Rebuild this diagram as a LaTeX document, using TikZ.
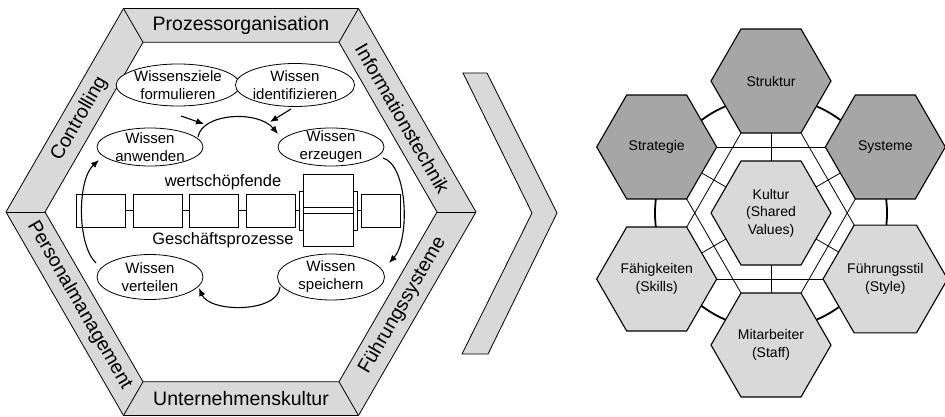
\documentclass[tikz,border=0pt]{standalone}
\usepackage{fontspec}
\setmainfont{Liberation Sans}
\usepackage{tikz}
\usetikzlibrary{calc,shapes.geometric,arrows.meta}

\definecolor{bandgray}{HTML}{D9D9D9}
\definecolor{hexdark}{HTML}{A6A6A6}

\tikzset{
	bandtext/.style={font=\fontsize{19.5}{22}\selectfont, inner sep=0pt},
	wissen/.style={ellipse, draw, fill=white, align=center, inner xsep=0pt, inner ysep=-5pt,
		font=\fontsize{15}{18}\selectfont},
	prozess/.style={rectangle, draw, minimum width=49pt, minimum height=33pt, inner sep=0pt},
	klammer/.style={rectangle, draw, minimum width=4pt, minimum height=39pt, inner sep=0pt},
	prozesstext/.style={font=\fontsize{16.5}{18}\selectfont, inner sep=0pt},
	kreislauf/.style={->, line width=1.1pt},
	hexa/.style={regular polygon, regular polygon sides=6, minimum size=120pt, inner sep=0pt,
		draw, line width=1.1pt, align=center, font=\fontsize{14}{17.5}\selectfont},
}

\begin{document}
\begin{tikzpicture}[x=1pt,y=-1pt,line width=0.8pt,>={Latex[length=8pt,width=6.5pt]}]
	\useasboundingbox (0,0) rectangle (945,417);
	\def\R{235}
	\def\r{196}
	\def\d{132}
	
	% Rahmen links
	\coordinate (O) at (241,212);
	\foreach \i in {0,...,5} {
		\coordinate (o\i) at ($(O)+(\i*60:\R)$);
		\coordinate (i\i) at ($(O)+(\i*60:\r)$);
	}
	\fill[bandgray,even odd rule] (o0)--(o1)--(o2)--(o3)--(o4)--(o5)--cycle
		(i0)--(i1)--(i2)--(i3)--(i4)--(i5)--cycle;
	\draw (o0)--(o1)--(o2)--(o3)--(o4)--(o5)--cycle;
	\draw (i0)--(i1)--(i2)--(i3)--(i4)--(i5)--cycle;
	\foreach \i in {0,...,5} \draw (o\i)--(i\i);
	
	\node[bandtext] (proz) at (241,25.5) {Prozessorganisation};
	\node[bandtext] (untern) at (241,398.5) {Unternehmenskultur};
	\node[bandtext,rotate=60] (contr) at (79.4,118.7) {Controlling};
	\node[bandtext,rotate=-60] (info) at (402.6,118.7) {Informationstechnik};
	\node[bandtext,rotate=60] (fuehrsys) at (402.6,305.3) {Führungssysteme};
	\node[bandtext,rotate=-60] (pers) at (79.4,305.3) {Personalmanagement};
	
	% Geschaeftsprozesse
	\node[prozess] (p1) at (100.5,210.5) {};
	\node[prozess] (p2) at (157.5,210.5) {};
	\node[prozess] (p3) at (213.5,210.5) {};
	\node[prozess] (p4) at (270.5,210.5) {};
	\node[klammer] (kl) at (301,210.5) {};
	\node[klammer] (kr) at (355,210.5) {};
	\node[prozess,minimum width=50pt] (p5a) at (328,190.5) {};
	\node[prozess,minimum width=50pt] (p5b) at (328,230) {};
	\node[prozess,minimum width=39pt] (p6) at (380.5,210.5) {};
	\draw (p1)--(p2);
	\draw (p2)--(p3);
	\draw (p3)--(p4);
	\draw (p4)--(kl);
	\draw (kr)--(p6);
	\node[prozesstext] (wert) at (223,182) {wertschöpfende};
	\node[prozesstext] (gesch) at (223,240) {Geschäftsprozesse};
	
	% Wissensbausteine
	\node[wissen,minimum width=104pt,minimum height=42pt] (ziele) at (178,85) {Wissensziele\\formulieren};
	\node[wissen,minimum width=96pt,minimum height=43pt] (ident) at (295,85) {Wissen\\identifizieren};
	\node[wissen,minimum width=106pt,minimum height=38pt] (anwend) at (150,147) {Wissen\\anwenden};
	\node[wissen,minimum width=106pt,minimum height=38pt] (erzeug) at (331,147) {Wissen\\erzeugen};
	\node[wissen,minimum width=106pt,minimum height=45pt] (verteil) at (150,277) {Wissen\\verteilen};
	\node[wissen,minimum width=107pt,minimum height=46pt] (speich) at (331,277) {Wissen\\speichern};
	
	\coordinate (z1) at (181,116);
	\coordinate (z2) at (204,124);
	\coordinate (e1) at (291,109);
	\coordinate (e2) at (270,122);
	\coordinate (a1) at (198,137);
	\coordinate (a2) at (278,134);
	\coordinate (b1) at (383,158);
	\coordinate (b2) at (389,263);
	\coordinate (c1) at (280,287);
	\coordinate (c2) at (199,288);
	\coordinate (d1) at (96,263);
	\coordinate (d2) at (99,160);
	\draw[kreislauf] (z1)--(z2);
	\draw[kreislauf] (e1)--(e2);
	\draw[kreislauf] (a1) .. controls (202,113) and (258,110) .. (a2);
	\draw[kreislauf] (b1) .. controls (408,165) and (410,240) .. (b2);
	\draw[kreislauf] (c1) .. controls (278,313) and (210,313) .. (c2);
	\draw[kreislauf] (d1) .. controls (77,245) and (77,180) .. (d2);
	
	% Pfeil
	\draw[fill=bandgray] (463,73)--(487,73)--(557,213)--(488,354)--(462,354)--(532,213)--cycle;
	
	% 7-S
	\coordinate (K) at (771,213);
	\coordinate (strukC) at ($(K)+(270:\d)$);
	\coordinate (stratC) at ($(K)+(210:\d)$);
	\coordinate (systC) at ($(K)+(330:\d)$);
	\coordinate (faehC) at ($(K)+(150:\d)$);
	\coordinate (fuehrC) at ($(K)+(30:\d)$);
	\coordinate (mitC) at ($(K)+(90:\d)$);
	
	\draw[line width=1.8pt] (K) circle (116);
	\draw (strukC)--(faehC);
	\draw (strukC)--(fuehrC);
	\draw (stratC)--(systC);
	\draw (stratC)--(mitC);
	\draw (systC)--(mitC);
	\draw (faehC)--(fuehrC);
	\foreach \c in {strukC,stratC,systC,faehC,fuehrC,mitC} \draw (K)--(\c);
	
	\node[hexa,fill=hexdark] (struktur) at (strukC) {Struktur};
	\node[hexa,fill=hexdark] (strategie) at (stratC) {Strategie};
	\node[hexa,fill=hexdark] (systeme) at (systC) {Systeme};
	\node[hexa,fill=bandgray] (faehig) at (faehC) {Fähigkeiten\\(Skills)};
	\node[hexa,fill=bandgray] (fuehrung) at (fuehrC) {Führungsstil\\(Style)};
	\node[hexa,fill=bandgray] (mitarb) at (mitC) {Mitarbeiter\\(Staff)};
	\node[hexa,fill=bandgray] (kultur) at (K) {Kultur\\(Shared\\Values)};
\end{tikzpicture}
\end{document}
